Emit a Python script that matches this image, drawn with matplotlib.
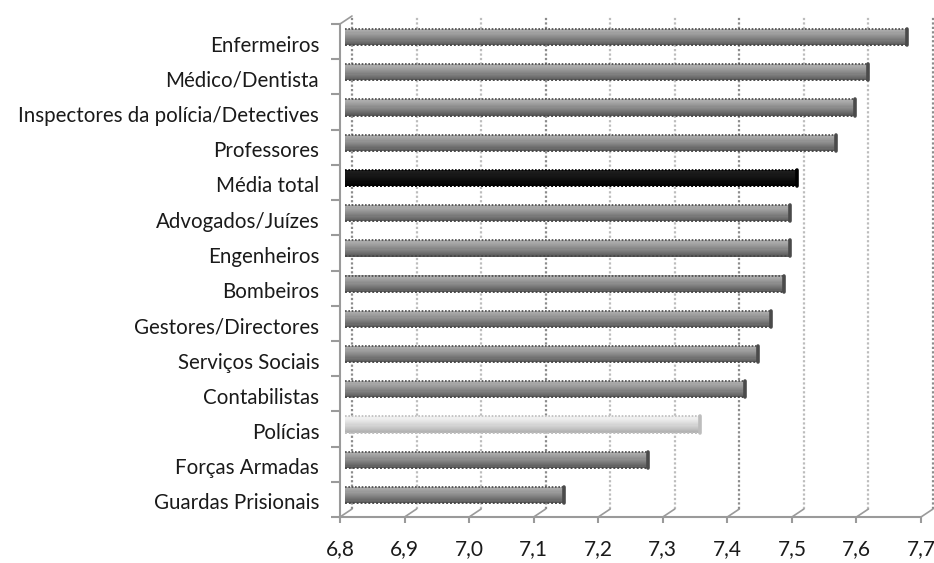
import numpy as np
import matplotlib
matplotlib.use("Agg")
from matplotlib import pyplot as plt
from matplotlib import transforms

# categories, top to bottom
categorias = [
    "Enfermeiros",
    "Médico/Dentista",
    "Inspectores da polícia/Detectives",
    "Professores",
    "Média total",
    "Advogados/Juízes",
    "Engenheiros",
    "Bombeiros",
    "Gestores/Directores",
    "Serviços Sociais",
    "Contabilistas",
    "Polícias",
    "Forças Armadas",
    "Guardas Prisionais",
]
valores = [7.67, 7.61, 7.59, 7.56, 7.50, 7.49, 7.49, 7.48, 7.46, 7.44, 7.42, 7.35, 7.27, 7.14]
xticks = [6.8, 6.9, 7.0, 7.1, 7.2, 7.3, 7.4, 7.5, 7.6, 7.7]
xticklabels = ["6,8", "6,9", "7,0", "7,1", "7,2", "7,3", "7,4", "7,5", "7,6", "7,7"]

plt.rcParams["font.family"] = ["Lato", "DejaVu Sans"]

W, H = 934, 563
fig = plt.figure(figsize=(W / 100, H / 100), dpi=100)
x0, x1 = 340, 921
y0, y1 = 24, 517
ax = fig.add_axes([x0 / W, 1 - y1 / H, (x1 - x0) / W, (y1 - y0) / H])
ax.set_xlim(6.8, 7.7)
n = len(categorias)
ax.set_ylim(n - 0.5, -0.5)

axis_col = "#9a9a9a"

# back wall gridlines (shifted for the 3d depth)
back = transforms.offset_copy(ax.transData, fig=fig, x=12, y=8, units="dots")
for i, t in enumerate(xticks):
    c = "#8c8c8c" if i % 3 == 0 else "#bdbdbd"
    ax.plot([t, t], [n - 0.5, -0.5], color=c, lw=1.6, ls=(0, (1, 1)),
            transform=back, clip_on=False, zorder=1)
    # floor lines from the front axis back to the wall
    ax.annotate("", xy=(t, n - 0.5), xycoords=back, xytext=(t, n - 0.5),
                textcoords="data",
                arrowprops=dict(arrowstyle="-", color=axis_col, lw=1.2,
                                shrinkA=0, shrinkB=0))
ax.annotate("", xy=(6.8, -0.5), xycoords=back, xytext=(6.8, -0.5),
            textcoords="data",
            arrowprops=dict(arrowstyle="-", color=axis_col, lw=1.2,
                            shrinkA=0, shrinkB=0))

# bars at mid depth, shaded top to bottom
mid = transforms.offset_copy(ax.transData, fig=fig, x=5, y=4.5, units="dots")
h = 0.46
nsl = 14
for i, (cat, v) in enumerate(zip(categorias, valores)):
    if cat == "Média total":
        top, bot = np.array([0.12, 0.12, 0.12]), np.array([0.0, 0.0, 0.0])
        edge = "#000000"
    elif cat == "Polícias":
        top, bot = np.array([0.95, 0.95, 0.95]), np.array([0.70, 0.70, 0.70])
        edge = "#bdbdbd"
    else:
        top, bot = np.array([0.68, 0.68, 0.68]), np.array([0.36, 0.36, 0.36])
        edge = "#4a4a4a"
    cols = [top + (bot - top) * (k / (nsl - 1)) ** 1.2 for k in range(nsl)]
    for k in range(nsl):
        yy = i - h / 2 + (k + 0.5) * h / nsl
        ax.barh(yy, v - 6.8, left=6.8, height=h / nsl * 1.05, color=cols[k],
                transform=mid, clip_on=False, zorder=3, lw=0)
    ax.plot([6.8, v], [i - h / 2, i - h / 2], color=edge, lw=1.2, ls=(0, (1, 1)),
            transform=mid, clip_on=False, zorder=4)
    ax.plot([6.8, v], [i + h / 2, i + h / 2], color=edge, lw=1.4, ls=(0, (1, 1)),
            transform=mid, clip_on=False, zorder=4)
    ax.plot([v, v], [i - h / 2, i + h / 2], color=edge, lw=2.6,
            transform=mid, clip_on=False, zorder=4, solid_capstyle="round")

# axes styling
for s in ["top", "right"]:
    ax.spines[s].set_visible(False)
for s in ["left", "bottom"]:
    ax.spines[s].set_color(axis_col)
    ax.spines[s].set_linewidth(1.5)

ax.set_xticks(xticks)
ax.set_xticklabels(xticklabels, fontsize=15, color="#1a1a1a")
ax.tick_params(axis="x", length=4.5, width=1.5, color=axis_col, pad=11.5)

ax.set_yticks(np.arange(n + 1) - 0.5)
ax.set_yticklabels([])
ax.set_yticks(np.arange(n), minor=True)
ax.set_yticklabels(categorias, minor=True, fontsize=14.8, color="#1a1a1a")
ax.tick_params(axis="y", which="major", length=6.5, width=1.5, color=axis_col)
ax.tick_params(axis="y", which="minor", length=0, pad=15)
for lab in ax.get_yticklabels(minor=True):
    lab.set_transform(lab.get_transform() + transforms.ScaledTranslation(0, -2 / 100, fig.dpi_scale_trans))

ax.patch.set_alpha(0)
fig.savefig("out.png", dpi=100, facecolor="white")
